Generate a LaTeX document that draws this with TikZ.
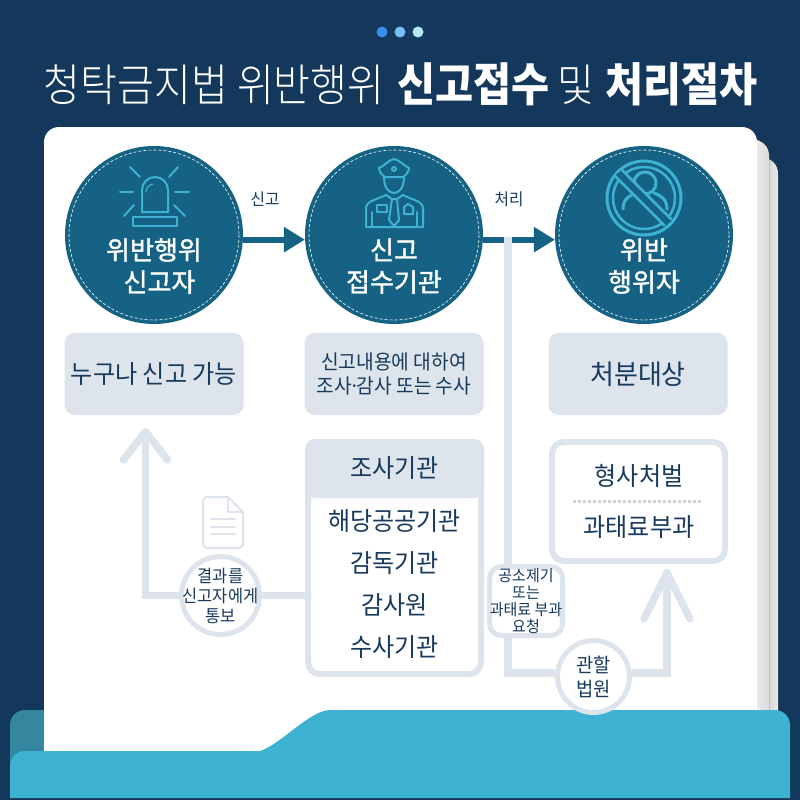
\documentclass[tikz,border=0pt]{standalone}
\usepackage{fontspec}
\setmainfont[FakeStretch=.95]{Noto Sans CJK KR}
\newfontfamily\headfont[FakeStretch=.9]{Noto Sans CJK KR}
\newfontfamily\thinfont[FakeStretch=.9]{Noto Sans CJK KR Light}
\newfontfamily\badgefont[FakeBold=1.5]{Noto Sans CJK KR}
\usetikzlibrary{arrows.meta}
\definecolor{navy}{HTML}{14385C}
\definecolor{teal}{HTML}{156285}
\definecolor{sky}{HTML}{3DB2D3}
\definecolor{duskband}{HTML}{35869F}
\definecolor{mist}{HTML}{DDE4EB}
\definecolor{ink}{HTML}{173A5E}
\definecolor{dotone}{HTML}{3B8DF0}
\definecolor{dottwo}{HTML}{7DBDF5}
\definecolor{dotthree}{HTML}{B5E8F5}
\newcommand{\fs}[1]{\fontsize{#1}{#1}\selectfont\lineskiplimit=-100pt\lineskip=0pt}
\tikzset{
    badge/.style={
        circle,
        fill=teal,
        minimum size=178pt,
        inner sep=0pt},
    badgelabel/.style={
        text=white,
        align=center,
        inner sep=0pt,
        font=\badgefont\fs{26}},
    infobox/.style={
        rounded corners=10pt,
        fill=mist,
        minimum width=179pt,
        minimum height=82pt,
        inner sep=0pt,
        text=ink,
        align=center},
    framebox/.style={
        rounded corners=12pt,
        draw=mist,
        line width=6pt,
        fill=white,
        inner sep=0pt},
    bubble/.style={
        circle,
        draw=mist,
        line width=5pt,
        fill=white,
        inner sep=-14pt,
        text=ink,
        align=center},
    entry/.style={
        text=ink,
        inner sep=0pt,
        font=\fs{25.3}},
    tag/.style={
        text=ink,
        inner sep=0pt,
        font=\fs{16.5}},
    tealarrow/.style={
        draw=teal,
        line width=6pt,
        -{Triangle[length=21pt,width=24pt]}},
    mistline/.style={
        draw=mist,
        line width=7.5pt},
    icon/.style={
        draw=sky,
        line width=2pt,
        line join=round,
        line cap=round}}

\begin{document}
\begin{tikzpicture}[x=1pt,y=-1pt]
    \useasboundingbox (0,0) rectangle (800,800);
    \fill[navy] (0,0) rectangle (800,800);

    % heading
    \fill[dotone] (382,32) circle (5.5);
    \fill[dottwo] (400,32) circle (5.5);
    \fill[dotthree] (418,32) circle (5.5);
    \node[text=white,inner sep=0pt,font=\fs{44.5}] (title) at (401,84)
        {\thinfont 청탁금지법 위반행위\hspace{13pt}{\headfont\bfseries\fs{46} 신고접수}\hspace{8pt}및\hspace{11pt}{\headfont\bfseries\fs{46} 처리절차}};

    % paper and back band
    \fill[duskband,rounded corners=15pt] (10,790) -- (10,710) -- (100,710) -- (100,790) -- cycle;
    \fill[rounded corners=15pt,left color=black!28,right color=black!8] (755,158) rectangle (778,760);
    \fill[rounded corners=15pt,left color=black!3,right color=black!14] (745,140) rectangle (769,760);
    \fill[white,rounded corners=15pt] (44,127) rectangle (757,770);

    % main row
    \node[badge] (reporter) at (154,235) {};
    \node[badge,right of=reporter,node distance=240pt] (agency) {};
    \node[badge,right of=agency,node distance=250pt] (violator) {};
    \foreach \n in {reporter,agency,violator}
        \draw[white,densely dashed,line width=.6pt] (\n) circle (85);
    \node[badgelabel] (reporterlabel) at (154,266) {위반행위\\[6pt]\hspace{11pt}신고자};
    \node[badgelabel] (agencylabel) at (394,266) {신고\\[6pt]접수기관};
    \node[badgelabel] (violatorlabel) at (644,266) {위반\\[6pt]행위자};
    \draw[tealarrow] (reporter.-3) -- (agency.183);
    \draw[tealarrow] (agency.-3) -- (violator.183);
    \node[tag] (reportlabel) at (265,199) {신고};
    \node[tag] (handlelabel) at (509,199) {처리};

    % siren
    \draw[icon] (142,212) -- (142,190) arc (180:360:13) -- (168,212) -- cycle;
    \draw[icon,line width=1.2pt] (146,192) arc (180:260:8);
    \draw[icon] (133,217) rectangle (177,226);
    \draw[icon] (120,192) -- (133,192) (175,192) -- (189,192);
    \draw[icon] (130,167) -- (140,177) (178,167) -- (169,177);
    \draw[icon] (124,216) -- (134,205) (185,216) -- (174,205);

    % officer
    \draw[icon] (379,168) .. controls (385,166) and (388,160) .. (394,159) .. controls (400,160) and (404,166) .. (409,168) .. controls (409,172) and (405,176) .. (403,177) -- (385,177) .. controls (383,176) and (379,172) .. (379,168) -- cycle;
    \draw[icon] (394,169) circle (2);
    \draw[icon] (384,177) .. controls (384,188) and (389,193) .. (394,193) .. controls (399,193) and (404,188) .. (404,177);
    \draw[icon] (366,227) -- (366,208) .. controls (366,201) and (378,199) .. (386,195) -- (392,199) -- (397,199) -- (403,195) .. controls (410,199) and (423,201) .. (423,208) -- (423,227) -- cycle;
    \draw[icon] (392,199) -- (389,220) -- (394,226) -- (399,220) -- (397,199);
    \draw[icon] (377,205) rectangle (387,212);
    \draw[icon] (404,214) -- (404,207) -- (408,204) -- (413,207) -- (413,214) -- cycle;
    \draw[icon] (372,212) -- (372,227) (417,212) -- (417,227);

    % barred person
    \draw[icon,line width=3pt] (644,198) circle (37);
    \draw[icon,line width=2.5pt] (644,198) circle (31);
    \draw[icon,line width=3pt] (645,183) circle (11);
    \draw[icon,line width=3pt] (623,209) .. controls (623,199) and (630,195) .. (636,193) (667,209) .. controls (667,199) and (660,195) .. (654,193);
    \fill[teal] (614,176) -- (622,170) -- (672,220) -- (664,226) -- cycle;
    \draw[icon,line width=2.5pt] (615,176) -- (664,225) (622,170) -- (671,219);

    % notes under the row
    \node[infobox,below of=reporter,node distance=139pt,font=\fs{25.4}] (anyone) {누구나 신고 가능};
    \node[infobox,below of=agency,node distance=139pt,font=\fs{20.2}] (inquiry) {신고내용에 대하여\\[3.8pt]조사\kern-3pt·\kern-3pt감사 또는 수사};
    \node[infobox,right of=inquiry,node distance=244pt,font=\fs{27.3}] (sanction) {처분대상};

    % investigators
    \node[framebox,minimum width=173pt,minimum height=232pt] (bodies) at (394.5,558) {};
    \node[infobox,minimum height=59pt,font=\fs{25.3}] (bodieshead) at (394.5,468.5) {조사기관};
    \node[entry] (body1) at (394.5,521) {해당공공기관};
    \node[entry,below of=body1,node distance=42pt] (body2) {감독기관};
    \node[entry,below of=body2,node distance=42pt] (body3) {감사원};
    \node[entry,below of=body3,node distance=42pt] (body4) {수사기관};

    % penalties
    \node[framebox,minimum width=173pt,minimum height=119pt] (penalty) at (638.5,501.5) {};
    \node[entry] (penalty1) at (639,475.5) {형사처벌};
    \node[entry,below of=penalty1,node distance=52pt] (penalty2) {과태료부과};
    \draw[mist!92!black,line width=3pt,dash pattern=on 3pt off 2pt] (573,501) -- (703,501);

    % notice back to the reporter
    \coordinate (tipA) at (145.5,428);
    \node[bubble,minimum size=78pt,font=\fs{17.3}] (notice) at (220.5,595.5) {결과를\\[2.7pt]신고자에게\\[2.7pt]통보};
    \draw[mistline,-{Straight Barb[length=28pt,width=44pt,round]}] (notice.west) -| (tipA);
    \draw[mistline] (notice.east) -- (notice.east -| bodies.west);
    \draw[icon,draw=mist] (228,497) -- (206,497) -- (203,500) -- (203,545) -- (206,548) -- (240,548) -- (243,545) -- (243,512) -- cycle;
    \draw[icon,draw=mist] (228,497) -- (228,512) -- (243,512);
    \draw[icon,draw=mist] (211,519) -- (235,519) (211,527) -- (235,527) (211,534) -- (235,534);

    % front band
    \fill[sky] (10,798) -- (10,766) arc (180:270:15) -- (260,751) .. controls (280,745) and (310,710) .. (330,710) -- (775,710) arc (270:360:15) -- (790,798) -- cycle;

    % request and court
    \coordinate (trunktop) at (508,237);
    \coordinate (tipB) at (667,569);
    \node[framebox,line width=5pt,minimum width=73pt,minimum height=69pt,inner sep=0pt,text=ink,align=center,font=\fs{15.8}] (request) at (526,601) {공소제기\\[1.2pt]또는\\[1.2pt]과태료 부과\\[1.2pt]요청};
    \node[bubble,minimum size=72pt,font=\fs{19.7}] (court) at (593.5,676.5) {관할\\[4.3pt]법원};
    \draw[mistline] (trunktop) -- (trunktop |- request.north);
    \draw[mistline] (trunktop |- request.south) |- (court.175);
    \draw[mistline,-{Straight Barb[length=46pt,width=46pt,round]}] (court.5) -| (tipB);
\end{tikzpicture}
\end{document}
